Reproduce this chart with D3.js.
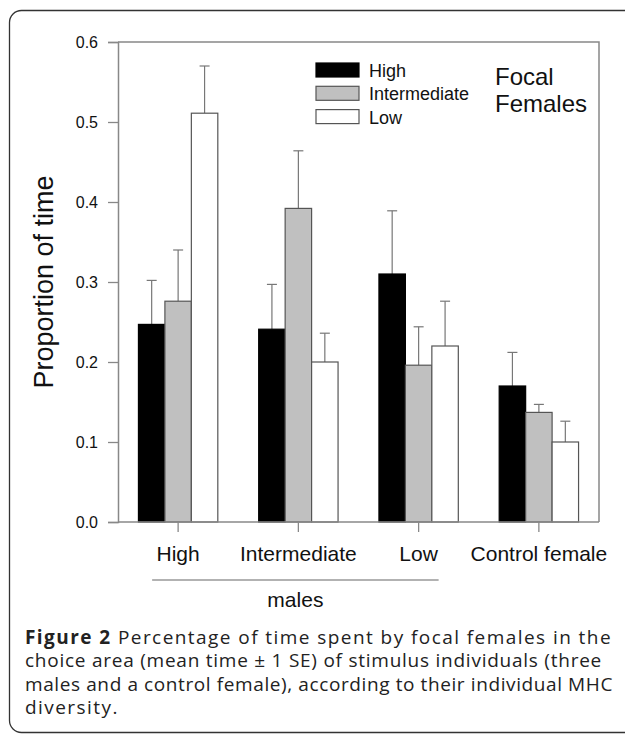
<!DOCTYPE html>
<meta charset="utf-8">
<html>
<head>
<title>Focal females</title>
<style>
body { margin: 0; background: #fff; }
svg { display: block; }
.chart text { font-family: "Liberation Sans", Arial, sans-serif; fill: #111; }
.caption text { font-family: "Open Sans", sans-serif; fill: #222; }
</style>
</head>
<body>
<svg width="625" height="734"></svg>
<script src="https://d3js.org/d3.v7.min.js"></script>
<script>

// stimulus groups on the x axis, and the MHC class of the focal female as series
var groups = ["High", "Intermediate", "Low", "Control female"];
var series = ["High", "Intermediate", "Low"];

// mean proportion of time, one array per series (ordered as groups)
var meanHigh  = [0.247, 0.241, 0.310, 0.170];
var meanInter = [0.276, 0.392, 0.196, 0.137];
var meanLow   = [0.511, 0.200, 0.220, 0.100];

// + 1 SE
var seHigh  = [0.055, 0.056, 0.079, 0.042];
var seInter = [0.064, 0.072, 0.048, 0.010];
var seLow   = [0.059, 0.036, 0.056, 0.026];

var yTicks = [0.0, 0.1, 0.2, 0.3, 0.4, 0.5, 0.6];

var captionLines = [
  ["Figure 2", " Percentage of time spent by focal females in the"],
  ["", "choice area (mean time \u00b1 1 SE) of stimulus individuals (three"],
  ["", "males and a control female), according to their individual MHC"],
  ["", "diversity."]
];

var means = [meanHigh, meanInter, meanLow],
    ses = [seHigh, seInter, seLow],
    fills = ["#000", "#c0c0c0", "#fff"],
    strokes = ["#000", "#555", "#555"];

var svg = d3.select("svg");

// frame round the figure, runs off the right edge
svg.append("rect")
    .attr("x", 9.5).attr("y", 10.5)
    .attr("width", 700).attr("height", 722)
    .attr("rx", 12)
    .attr("fill", "none")
    .attr("stroke", "#333")
    .attr("stroke-width", 1.3);

var plot = {left: 118, right: 599, top: 42, bottom: 522};

var x0 = d3.scaleBand()
    .domain(groups)
    .range([plot.left, plot.right])
    .paddingInner(0.34)
    .paddingOuter(0.17);

var x1 = d3.scaleBand()
    .domain(series)
    .range([0, x0.bandwidth()]);

var y = d3.scaleLinear()
    .domain([0, 0.6])
    .range([plot.bottom, plot.top]);

var g = svg.append("g").attr("class", "chart");

// data rows
var rows = [];
groups.forEach(function(grp, i) {
  series.forEach(function(s, j) {
    rows.push({group: grp, series: s, j: j, mean: means[j][i], se: ses[j][i]});
  });
});

// error bars first, bars over them
var err = g.append("g")
    .attr("stroke", "#777")
    .attr("stroke-width", 1.2)
  .selectAll("g")
  .data(rows)
  .enter().append("g")
    .attr("transform", function(d) { return "translate(" + (x0(d.group) + x1(d.series) + x1.bandwidth() / 2) + ",0)"; });

err.append("line")
    .attr("y1", function(d) { return y(d.mean); })
    .attr("y2", function(d) { return y(d.mean + d.se); });

err.append("line")
    .attr("x1", -5).attr("x2", 5)
    .attr("y1", function(d) { return y(d.mean + d.se); })
    .attr("y2", function(d) { return y(d.mean + d.se); });

g.append("g")
  .selectAll("rect")
  .data(rows)
  .enter().append("rect")
    .attr("x", function(d) { return x0(d.group) + x1(d.series); })
    .attr("y", function(d) { return y(d.mean); })
    .attr("width", x1.bandwidth())
    .attr("height", function(d) { return y(0) - y(d.mean); })
    .attr("fill", function(d) { return fills[d.j]; })
    .attr("stroke", function(d) { return strokes[d.j]; })
    .attr("stroke-width", 1.2);

// box: top and right sides
g.append("path")
    .attr("d", "M" + plot.left + "," + plot.top + "H" + plot.right + "V" + plot.bottom)
    .attr("fill", "none")
    .attr("stroke", "#888")
    .attr("stroke-width", 1.5);

var yAxis = g.append("g")
    .attr("transform", "translate(" + plot.left + ",0)")
    .call(d3.axisLeft(y).tickValues(yTicks).tickFormat(d3.format(".1f")).tickSize(10).tickPadding(10));

var xAxis = g.append("g")
    .attr("transform", "translate(0," + plot.bottom + ")")
    .call(d3.axisBottom(x0).tickSize(10).tickPadding(14).tickSizeOuter(0));

[yAxis, xAxis].forEach(function(a) {
  a.select(".domain").attr("stroke", "#888").attr("stroke-width", 1.5);
  a.selectAll(".tick line").attr("stroke", "#888").attr("stroke-width", 1.3);
  a.selectAll("text").attr("fill", "#111").attr("font-family", null);
});
yAxis.selectAll("text").attr("font-size", 16);
xAxis.selectAll("text").attr("font-size", 21);
xAxis.select(".domain").attr("d", "M" + plot.left + ",0H" + plot.right);

// y title
g.append("text")
    .attr("transform", "translate(53," + ((plot.top + plot.bottom) / 2) + ") rotate(-90)")
    .attr("text-anchor", "middle")
    .attr("font-size", 27)
    .text("Proportion of time");

// males bracket
var mStart = x0("High") + x0.bandwidth() / 2 - 26,
    mEnd = x0("Low") + x0.bandwidth() / 2 + 20;
g.append("line")
    .attr("x1", mStart).attr("x2", mEnd)
    .attr("y1", 580).attr("y2", 580)
    .attr("stroke", "#999")
    .attr("stroke-width", 1.5);
g.append("text")
    .attr("x", (mStart + mEnd) / 2)
    .attr("y", 607)
    .attr("text-anchor", "middle")
    .attr("font-size", 21)
    .text("males");

// legend
var legend = g.append("g")
  .selectAll("g")
  .data(series)
  .enter().append("g")
    .attr("transform", function(d, i) { return "translate(316," + (63 + i * 23.3) + ")"; });

legend.append("rect")
    .attr("width", 43).attr("height", 14)
    .attr("fill", function(d, i) { return fills[i]; })
    .attr("stroke", function(d, i) { return strokes[i]; })
    .attr("stroke-width", 1.2);

legend.append("text")
    .attr("x", 53)
    .attr("y", 14)
    .attr("font-size", 18)
    .text(function(d) { return d; });

g.append("text")
    .attr("x", 495).attr("y", 85)
    .attr("font-size", 24)
    .selectAll("tspan")
    .data(["Focal", "Females"])
    .enter().append("tspan")
      .attr("x", 495)
      .attr("dy", function(d, i) { return i ? 27 : 0; })
      .text(function(d) { return d; });

// caption: each full line is spread to the right edge it has in the figure
var cap = svg.append("g").attr("class", "caption");
var capX = 25, capEnds = [612, 602, 613];
var capText = captionLines.map(function(l, i) {
  var t = cap.append("text")
      .attr("x", capX)
      .attr("y", 644 + i * 23.3)
      .attr("font-size", 19);
  if (l[0]) t.append("tspan").attr("font-weight", "bold").text(l[0]);
  t.append("tspan").text(l[1]);
  return t;
});
var spacing0 = 0;
capText.forEach(function(t, i) {
  var n = (captionLines[i][0] + captionLines[i][1]).length;
  var s = i < capEnds.length ? (capEnds[i] - capX - t.node().getComputedTextLength()) / n : spacing0;
  if (i === 0) spacing0 = s;
  t.attr("letter-spacing", s);
});

</script>
</body>
</html>
